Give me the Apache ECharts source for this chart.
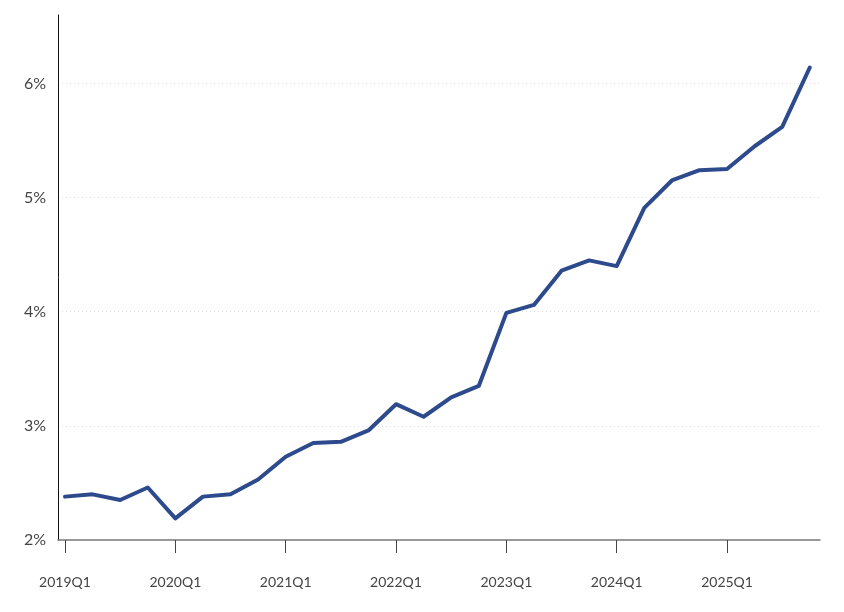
<!DOCTYPE html>
<html><head><meta charset="utf-8">
<script src="https://cdn.jsdelivr.net/npm/echarts@6/dist/echarts.min.js"></script>
<style>html,body{margin:0;padding:0;background:#fff}#c{width:844px;height:612px}</style>
</head><body><div id="c"></div>
<script>
const quarters = ["2019Q1","2019Q2","2019Q3","2019Q4","2020Q1","2020Q2","2020Q3","2020Q4","2021Q1","2021Q2","2021Q3","2021Q4","2022Q1","2022Q2","2022Q3","2022Q4","2023Q1","2023Q2","2023Q3","2023Q4","2024Q1","2024Q2","2024Q3","2024Q4","2025Q1","2025Q2","2025Q3","2025Q4"];
const values = [2.38,2.40,2.35,2.46,2.19,2.38,2.40,2.53,2.73,2.85,2.86,2.96,3.19,3.08,3.25,3.35,3.99,4.06,4.36,4.45,4.40,4.91,5.15,5.24,5.25,5.45,5.62,6.14];
const xTickIndex = [0,4,8,12,16,20,24];
const yTicks = [2,3,4,5,6];

const chart = echarts.init(document.getElementById('c'));
chart.setOption({
  animation:false,
  backgroundColor:'#fff',
  grid:{left:58,right:24,top:15,bottom:72},
  xAxis:{
    type:'value', min:-0.254, max:27.37,
    axisLine:{show:true,onZero:false,lineStyle:{color:'#7a7a7a',width:1.5}},
    axisTick:{show:true,customValues:xTickIndex,length:13,inside:false,lineStyle:{color:'#444',width:1}},
    axisLabel:{customValues:xTickIndex,margin:35,fontFamily:'Lato',fontSize:14,color:'#444',
      formatter:v=>quarters[Math.round(v)]},
    splitLine:{show:false}
  },
  yAxis:{
    type:'value', min:2, max:6.6,
    axisLine:{show:true,onZero:false,lineStyle:{color:'#111',width:1}},
    axisTick:{show:false,customValues:yTicks},
    axisLabel:{customValues:yTicks,margin:12,fontFamily:'Lato',fontSize:16,color:'#444',
      formatter:v=>v+'%'},
    splitLine:{show:true,lineStyle:{color:'#dcdcdc',type:[1,3],width:1}}
  },
  series:[{
    type:'line',
    data:values.map((v,i)=>[i,v]),
    showSymbol:false,
    lineStyle:{color:'#2c4a8c',width:4,join:'round',cap:'round'},
    itemStyle:{color:'#2c4a8c'}
  }]
});
</script></body></html>
